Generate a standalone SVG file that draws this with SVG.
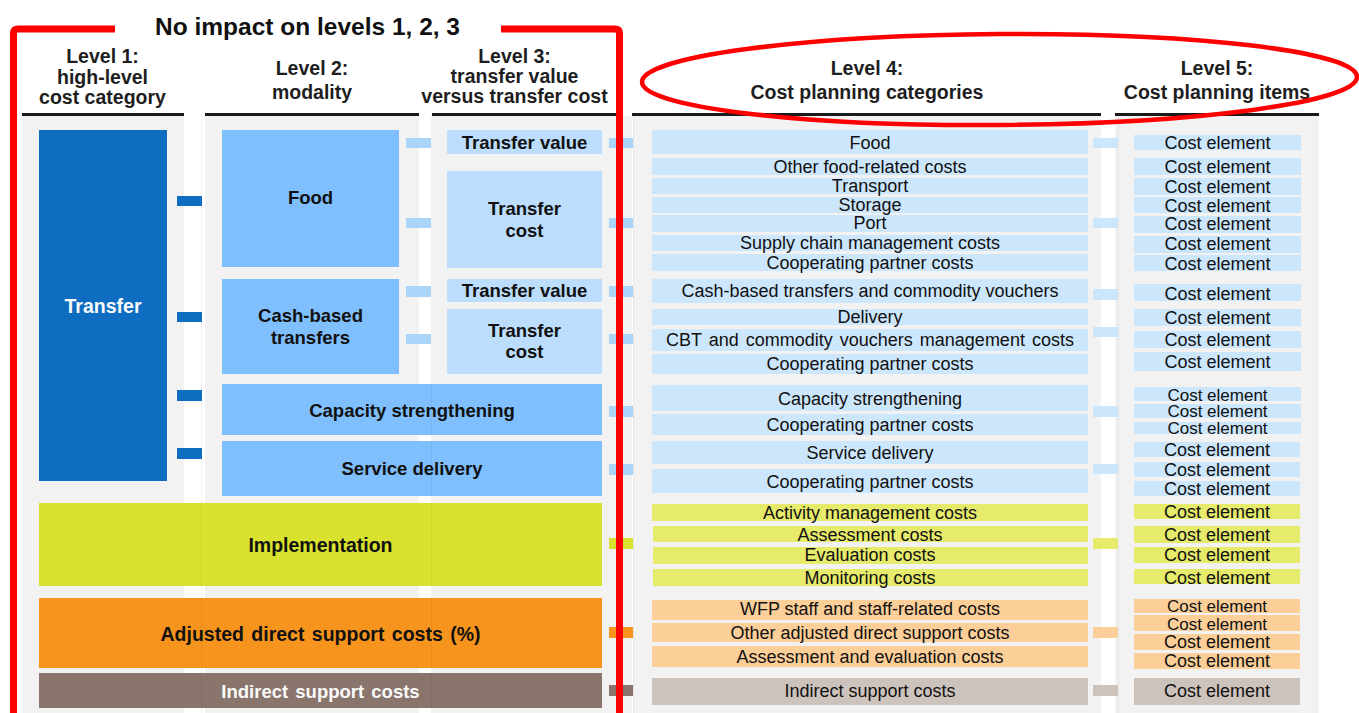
<svg xmlns="http://www.w3.org/2000/svg" width="1359" height="713" viewBox="0 0 1359 713">
  <style>
    text { font-family: "Liberation Sans", Arial, sans-serif; fill: #111; }
    .hdr { font-size: 19.5px; font-weight: bold; fill: #1e1e1e; text-anchor: middle; }
    .ttl { font-size: 24.5px; font-weight: bold; fill: #111; text-anchor: middle; }
    .lbl { font-size: 18.5px; font-weight: bold; text-anchor: middle; }
    .big { font-size: 19.5px; }
    .wht { fill: #fafafa; }
    .itm { font-size: 18px; text-anchor: middle; fill: #111; }
    .tight { font-size: 17px; }
    .bg { fill: #f2f2f2; }
    .rule { fill: #1a1a1a; }
    .c1 { fill: #0e6cc1; }
    .c2 { fill: #7fbffd; }
    .c3 { fill: #bcdefc; }
    .cb { fill: #cce6fc; }
    .cy { fill: #d9e22f; }
    .cyl { fill: #e6eb6b; }
    .co { fill: #f7941e; }
    .col { fill: #fccf99; }
    .cbr { fill: #8a756d; }
    .cg { fill: #cdc3bd; }
    .lk { fill: #aad4f8; }
    .red { fill: none; stroke: #ff0000; stroke-width: 7; stroke-linejoin: round; }
    .seam { stroke: #000; stroke-opacity: 0.05; stroke-width: 1; }
  </style>

  <!-- column backgrounds and header rules -->
  <g id="columns">
    <rect class="bg" x="22" y="116" width="162" height="597"/>
    <rect class="bg" x="205" y="116" width="214" height="597"/>
    <rect class="bg" x="432" y="116" width="200" height="597"/>
    <rect class="bg" x="633" y="116" width="468" height="597"/>
    <rect class="bg" x="1115" y="116" width="204" height="597"/>
    <rect class="rule" x="22" y="113" width="162" height="3"/>
    <rect class="rule" x="205" y="113" width="214" height="3"/>
    <rect class="rule" x="432" y="113" width="188" height="3"/>
    <rect class="rule" x="632" y="113" width="469" height="3"/>
    <rect class="rule" x="1115" y="113" width="204" height="3"/>
  </g>

  <!-- column headings -->
  <g id="headings">
    <text class="hdr" x="102.5" y="63">Level 1:</text>
    <text class="hdr" x="102.5" y="83.5">high-level</text>
    <text class="hdr" x="102.5" y="104">cost category</text>
    <text class="hdr" x="312" y="75">Level 2:</text>
    <text class="hdr" x="312" y="99">modality</text>
    <text class="hdr" x="514.5" y="63">Level 3:</text>
    <text class="hdr" x="514.5" y="83">transfer value</text>
    <text class="hdr" x="514.5" y="102.5">versus transfer cost</text>
    <text class="hdr" x="867" y="75">Level 4:</text>
    <text class="hdr" x="867" y="98.5">Cost planning categories</text>
    <text class="hdr" x="1217" y="75">Level 5:</text>
    <text class="hdr" x="1217" y="98.5">Cost planning items</text>
  </g>

  <!-- level 1 -->
  <g id="transfer">
    <rect class="c1" x="39" y="130" width="128" height="351"/>
    <text class="lbl wht big" x="103" y="313">Transfer</text>
  </g>
  <g id="implementation">
    <rect class="cy" x="39" y="503" width="563" height="83"/>
    <text class="lbl big" x="320.5" y="551.5">Implementation</text>
  </g>
  <g id="adjusted-direct-support">
    <rect class="co" x="39" y="598" width="563" height="70"/>
    <text class="lbl big" x="320.5" y="641" word-spacing="2">Adjusted direct support costs (%)</text>
  </g>
  <g id="indirect-support">
    <rect class="cbr" x="39" y="673" width="563" height="35"/>
    <text class="lbl wht" x="320.5" y="698" word-spacing="2">Indirect support costs</text>
  </g>

  <!-- level 2 -->
  <g id="food">
    <rect class="c2" x="222" y="130" width="177" height="137"/>
    <text class="lbl" x="310.5" y="204">Food</text>
  </g>
  <g id="cash-based">
    <rect class="c2" x="222" y="279" width="177" height="95"/>
    <text class="lbl" x="310.5" y="321.5">Cash-based</text>
    <text class="lbl" x="310.5" y="343.5">transfers</text>
  </g>
  <g id="capacity">
    <rect class="c2" x="222" y="384" width="380" height="51"/>
    <text class="lbl" x="412" y="416.5">Capacity strengthening</text>
  </g>
  <g id="service">
    <rect class="c2" x="222" y="441" width="380" height="55"/>
    <text class="lbl" x="412" y="475">Service delivery</text>
  </g>

  <!-- level 3 -->
  <g id="food-value">
    <rect class="c3" x="447" y="130" width="155" height="24"/>
    <text class="lbl" x="524.5" y="148.5">Transfer value</text>
  </g>
  <g id="food-cost">
    <rect class="c3" x="447" y="171" width="155" height="97"/>
    <text class="lbl" x="524.5" y="215">Transfer</text>
    <text class="lbl" x="524.5" y="236.5">cost</text>
  </g>
  <g id="cbt-value">
    <rect class="c3" x="447" y="279" width="155" height="23"/>
    <text class="lbl" x="524.5" y="296.5">Transfer value</text>
  </g>
  <g id="cbt-cost">
    <rect class="c3" x="447" y="309" width="155" height="65"/>
    <text class="lbl" x="524.5" y="336.5">Transfer</text>
    <text class="lbl" x="524.5" y="358">cost</text>
  </g>

  <!-- level 4: cost planning categories -->
  <g id="categories">
    <rect class="cb" x="652" y="130" width="436" height="24"/><text class="itm" x="870" y="149">Food</text>
    <rect class="cb" x="652" y="158" width="436" height="17"/><text class="itm" x="870" y="172.5">Other food-related costs</text>
    <rect class="cb" x="652" y="178" width="436" height="16"/><text class="itm" x="870" y="191.5">Transport</text>
    <rect class="cb" x="652" y="197" width="436" height="16"/><text class="itm" x="870" y="210.5">Storage</text>
    <rect class="cb" x="652" y="215" width="436" height="17"/><text class="itm" x="870" y="229">Port</text>
    <rect class="cb" x="652" y="235" width="436" height="16"/><text class="itm" x="870" y="249">Supply chain management costs</text>
    <rect class="cb" x="652" y="254" width="436" height="17"/><text class="itm" x="870" y="268.5">Cooperating partner costs</text>
    <rect class="cb" x="652" y="279" width="436" height="24"/><text class="itm" x="870" y="297">Cash-based transfers and commodity vouchers</text>
    <rect class="cb" x="652" y="309" width="436" height="16"/><text class="itm" x="870" y="323">Delivery</text>
    <rect class="cb" x="652" y="329" width="436" height="22"/><text class="itm" x="870" y="346" word-spacing="2">CBT and commodity vouchers management costs</text>
    <rect class="cb" x="652" y="354" width="436" height="20"/><text class="itm" x="870" y="370">Cooperating partner costs</text>
    <rect class="cb" x="652" y="385" width="436" height="26"/><text class="itm" x="870" y="405">Capacity strengthening</text>
    <rect class="cb" x="652" y="414" width="436" height="21"/><text class="itm" x="870" y="430.5">Cooperating partner costs</text>
    <rect class="cb" x="652" y="441" width="436" height="23"/><text class="itm" x="870" y="458.5">Service delivery</text>
    <rect class="cb" x="652" y="469" width="436" height="24"/><text class="itm" x="870" y="488">Cooperating partner costs</text>
    <rect class="cyl" x="652" y="504" width="436" height="17"/><text class="itm" x="870" y="519">Activity management costs</text>
    <rect class="cyl" x="653" y="526" width="435" height="16"/><text class="itm" x="870" y="540.5">Assessment costs</text>
    <rect class="cyl" x="653" y="547" width="435" height="17"/><text class="itm" x="870" y="561">Evaluation costs</text>
    <rect class="cyl" x="653" y="569" width="435" height="17"/><text class="itm" x="870" y="583.5">Monitoring costs</text>
    <rect class="col" x="652" y="600" width="436" height="20"/><text class="itm" x="870" y="615">WFP staff and staff-related costs</text>
    <rect class="col" x="652" y="623" width="436" height="19"/><text class="itm" x="870" y="638.5">Other adjusted direct support costs</text>
    <rect class="col" x="652" y="646" width="436" height="21"/><text class="itm" x="870" y="662.5">Assessment and evaluation costs</text>
    <rect class="cg" x="652" y="678" width="436" height="27"/><text class="itm" x="870" y="697">Indirect support costs</text>
  </g>

  <!-- level 5: cost planning items -->
  <g id="items">
    <rect class="cb" x="1134" y="135" width="167" height="15"/><text class="itm" x="1217.5" y="149">Cost element</text>
    <rect class="cb" x="1134" y="158" width="167" height="17"/><text class="itm" x="1217.5" y="172.5">Cost element</text>
    <rect class="cb" x="1134" y="178" width="167" height="17"/><text class="itm" x="1217.5" y="192.5">Cost element</text>
    <rect class="cb" x="1134" y="197" width="167" height="16"/><text class="itm" x="1217.5" y="211.5">Cost element</text>
    <rect class="cb" x="1134" y="216" width="167" height="17"/><text class="itm" x="1217.5" y="230">Cost element</text>
    <rect class="cb" x="1134" y="236" width="167" height="17"/><text class="itm" x="1217.5" y="250">Cost element</text>
    <rect class="cb" x="1134" y="255" width="167" height="16"/><text class="itm" x="1217.5" y="269.5">Cost element</text>
    <rect class="cb" x="1134" y="284" width="167" height="17"/><text class="itm" x="1217.5" y="299.5">Cost element</text>
    <rect class="cb" x="1134" y="309" width="167" height="17"/><text class="itm" x="1217.5" y="324">Cost element</text>
    <rect class="cb" x="1134" y="331" width="167" height="17"/><text class="itm" x="1217.5" y="346">Cost element</text>
    <rect class="cb" x="1134" y="352" width="167" height="19"/><text class="itm" x="1217.5" y="367.5">Cost element</text>
    <rect class="cb" x="1134" y="387" width="167" height="14"/><text class="itm tight" x="1217.5" y="400.5">Cost element</text>
    <rect class="cb" x="1134" y="404" width="167" height="14"/><text class="itm tight" x="1217.5" y="417">Cost element</text>
    <rect class="cb" x="1134" y="422" width="167" height="12"/><text class="itm tight" x="1217.5" y="434">Cost element</text>
    <rect class="cb" x="1134" y="442" width="166" height="15"/><text class="itm" x="1217" y="455.5">Cost element</text>
    <rect class="cb" x="1134" y="462" width="166" height="15"/><text class="itm" x="1217" y="476">Cost element</text>
    <rect class="cb" x="1134" y="481" width="166" height="15"/><text class="itm" x="1217" y="495">Cost element</text>
    <rect class="cyl" x="1134" y="504" width="166" height="15"/><text class="itm" x="1217" y="517.5">Cost element</text>
    <rect class="cyl" x="1134" y="526" width="166" height="17"/><text class="itm" x="1217" y="540.5">Cost element</text>
    <rect class="cyl" x="1134" y="547" width="166" height="16"/><text class="itm" x="1217" y="561">Cost element</text>
    <rect class="cyl" x="1134" y="569" width="166" height="15"/><text class="itm" x="1217" y="583.5">Cost element</text>
    <rect class="col" x="1134" y="599" width="166" height="14"/><text class="itm tight" x="1217" y="612">Cost element</text>
    <rect class="col" x="1134" y="615" width="166" height="16"/><text class="itm tight" x="1217" y="629.5">Cost element</text>
    <rect class="col" x="1134" y="634" width="166" height="16"/><text class="itm" x="1217" y="648">Cost element</text>
    <rect class="col" x="1134" y="653" width="166" height="16"/><text class="itm" x="1217" y="667">Cost element</text>
    <rect class="cg" x="1134" y="678" width="166" height="27"/><text class="itm" x="1217" y="697">Cost element</text>
  </g>

  <!-- faint column seams -->
  <g id="seams">
    <line class="seam" x1="201.5" y1="116" x2="201.5" y2="713"/>
    <line class="seam" x1="431.5" y1="116" x2="431.5" y2="713"/>
    <line class="seam" x1="633.5" y1="116" x2="633.5" y2="713"/>
    <line class="seam" x1="1118.5" y1="116" x2="1118.5" y2="713"/>
  </g>

  <!-- connectors between levels -->
  <g id="connectors">
    <rect class="c1" x="177" y="196" width="25" height="10"/>
    <rect class="c1" x="177" y="312" width="25" height="10"/>
    <rect class="c1" x="177" y="390" width="25" height="11"/>
    <rect class="c1" x="177" y="448" width="25" height="11"/>

    <rect class="lk" x="406" y="138" width="25" height="10"/>
    <rect class="lk" x="406" y="218" width="25" height="10"/>
    <rect class="lk" x="406" y="286" width="25" height="11"/>
    <rect class="lk" x="406" y="334" width="25" height="10"/>

    <rect class="lk" x="609" y="138" width="24" height="10"/>
    <rect class="lk" x="609" y="218" width="24" height="10"/>
    <rect class="lk" x="609" y="286" width="24" height="11"/>
    <rect class="lk" x="609" y="334" width="24" height="10"/>
    <rect class="lk" x="609" y="406" width="24" height="11"/>
    <rect class="lk" x="609" y="464" width="24" height="11"/>
    <rect class="cy" x="609" y="538" width="24" height="11"/>
    <rect class="co" x="609" y="627" width="24" height="11"/>
    <rect class="cbr" x="609" y="685" width="24" height="11"/>

    <rect class="cb" x="1093" y="138" width="25" height="10"/>
    <rect class="cb" x="1093" y="218" width="25" height="10"/>
    <rect class="cb" x="1093" y="289" width="25" height="11"/>
    <rect class="cb" x="1093" y="327" width="25" height="10"/>
    <rect class="cb" x="1093" y="406" width="25" height="11"/>
    <rect class="cb" x="1093" y="464" width="25" height="10"/>
    <rect class="cyl" x="1093" y="538" width="25" height="11"/>
    <rect class="col" x="1093" y="627" width="25" height="11"/>
    <rect class="cg" x="1093" y="685" width="25" height="11"/>
  </g>

  <!-- red bracket and ellipse call-outs -->
  <g id="annotations">
    <path class="red" d="M115 29 H18 Q13.5 29 13.5 33.5 V713"/>
    <path class="red" d="M501 29 H615 Q619.5 29 619.5 33.5 V713"/>
    <ellipse cx="999.5" cy="79.5" rx="357.5" ry="45.5" fill="none" stroke="#ff0000" stroke-width="4.5" transform="rotate(-0.4 999.5 79.5)"/>
    <text class="ttl" x="307.5" y="35">No impact on levels 1, 2, 3</text>
  </g>
</svg>
